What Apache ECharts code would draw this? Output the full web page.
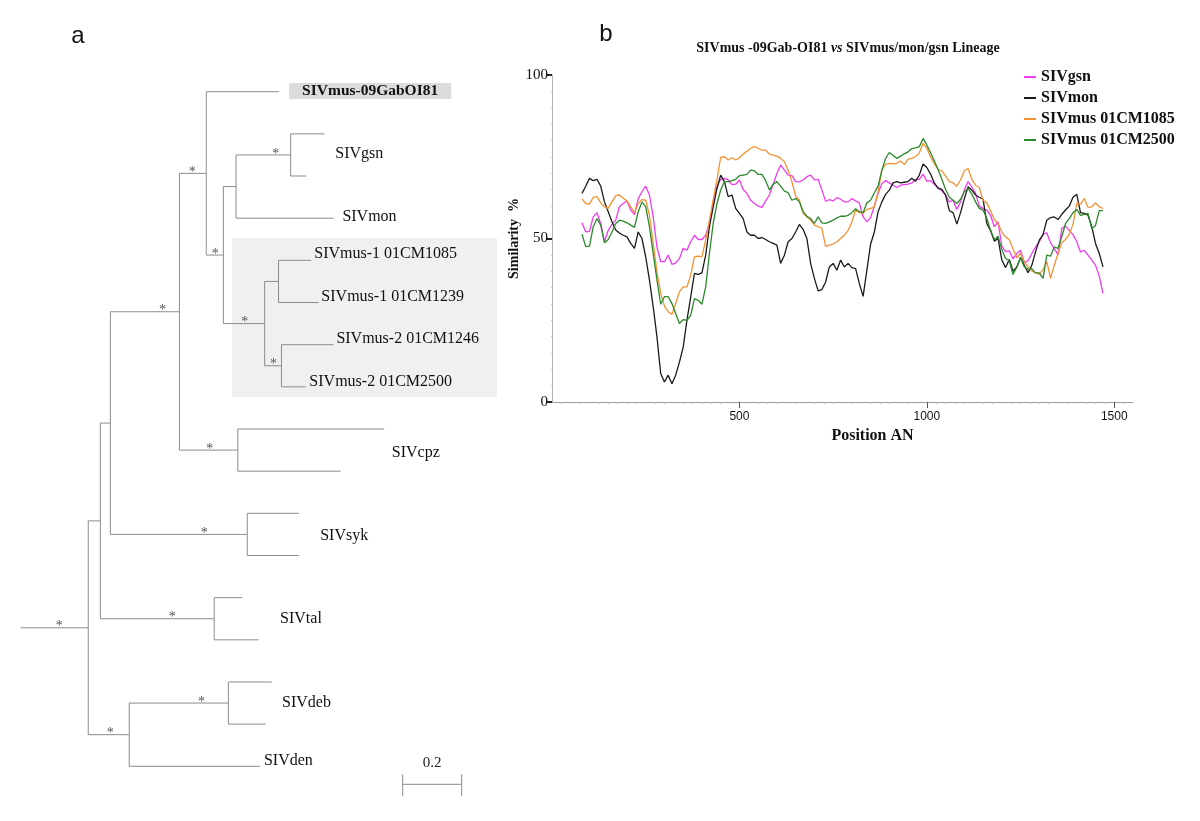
<!DOCTYPE html>
<html><head><meta charset="utf-8">
<script src="https://cdn.jsdelivr.net/npm/echarts@6/dist/echarts.min.js"></script>
<style>html,body{margin:0;padding:0;background:#fff}#c{width:1200px;height:821px}</style>
</head><body><div id="c"></div>
<script>
// ---------------- DATA ----------------
// similarity plot: positions start at posStart, one value every posStep
const posStart = 80, posStep = 10;
const seriesNames = ['SIVgsn', 'SIVmon', 'SIVmus 01CM1085', 'SIVmus 01CM2500'];
const gsn = [
  54.8, 52.0, 52.2, 56.6, 57.9, 54.6, 49.0, 52.5, 54.3, 55.6,
  59.7, 60.7, 61.5, 58.7, 57.3, 62.2, 64.3, 66.0, 63.3, 56.6,
  47.4, 42.9, 42.9, 44.9, 42.1, 42.5, 43.9, 47.0, 46.4, 49.0,
  51.0, 49.7, 49.7, 51.0, 54.6, 61.2, 65.8, 68.1, 68.4, 67.9,
  66.5, 66.6, 67.9, 65.0, 63.8, 61.7, 60.7, 59.9, 59.5, 61.5,
  63.3, 66.6, 69.9, 72.5, 70.9, 69.4, 69.2, 67.4, 67.3, 67.9,
  68.9, 69.4, 67.9, 68.1, 64.8, 61.4, 61.9, 61.5, 62.5, 62.0,
  61.2, 61.2, 62.2, 61.5, 60.9, 56.6, 55.1, 56.4, 59.9, 63.8,
  66.8, 67.7, 67.0, 66.3, 65.6, 66.3, 66.5, 66.6, 67.0, 68.1,
  68.1, 69.7, 67.5, 67.7, 66.6, 65.6, 64.6, 63.3, 61.2, 61.7,
  58.9, 61.2, 64.8, 67.4, 65.8, 63.8, 59.9, 59.2, 58.7, 57.1,
  53.6, 55.1, 47.7, 46.0, 46.2, 43.8, 45.4, 46.4, 42.6, 43.2,
  45.4, 47.4, 49.0, 51.3, 51.7, 48.7, 47.0, 45.0, 53.1, 53.8,
  52.5, 51.2, 49.0, 45.9, 46.4, 44.9, 43.4, 41.8, 38.5, 33.2
];
const mon = [
  63.8, 66.0, 68.4, 67.7, 68.1, 66.0, 61.2, 58.2, 55.1, 52.6,
  51.7, 51.0, 50.5, 48.5, 47.0, 52.0, 50.0, 44.4, 37.3, 29.1,
  19.9, 8.7, 6.1, 8.2, 5.6, 8.2, 12.2, 16.8, 25.0, 32.1,
  39.3, 39.0, 39.5, 44.9, 53.6, 59.7, 65.3, 69.4, 67.4, 62.8,
  63.3, 59.2, 57.7, 56.1, 52.0, 51.0, 51.0, 50.0, 50.3, 49.7,
  49.0, 48.5, 48.0, 42.4, 44.9, 49.0, 50.0, 52.0, 54.3, 52.8,
  50.0, 42.4, 37.8, 34.0, 34.4, 36.7, 41.3, 42.4, 40.3, 43.4,
  41.3, 42.4, 41.1, 40.8, 36.2, 32.3, 40.3, 48.3, 52.0, 58.2,
  61.2, 63.5, 64.8, 67.0, 67.4, 67.0, 67.2, 67.4, 68.4, 67.5,
  69.4, 72.8, 71.7, 69.7, 67.0, 65.3, 65.0, 63.3, 58.5, 57.9,
  54.4, 57.9, 62.2, 65.8, 64.8, 63.3, 62.6, 62.0, 54.6, 52.4,
  49.2, 50.0, 43.4, 41.1, 43.6, 40.0, 41.3, 44.2, 41.8, 39.5,
  41.8, 45.9, 49.5, 51.2, 55.6, 56.4, 56.6, 55.8, 57.4, 58.7,
  59.9, 62.6, 63.5, 57.9, 57.7, 57.1, 53.6, 48.5, 45.4, 41.3
];
const mus1085 = [
  62.1, 60.7, 60.5, 62.6, 62.8, 60.9, 59.7, 59.2, 61.2, 63.1,
  63.3, 62.3, 61.5, 59.7, 57.9, 60.7, 61.9, 61.7, 57.1, 48.5,
  39.8, 33.2, 29.3, 27.6, 26.8, 30.1, 33.7, 35.2, 35.2, 38.8,
  44.4, 44.6, 44.4, 49.5, 55.6, 61.7, 67.9, 74.8, 75.0, 74.0,
  74.7, 74.0, 74.7, 75.8, 76.7, 77.6, 78.1, 77.6, 77.0, 77.0,
  75.8, 75.5, 75.2, 74.5, 73.5, 70.9, 67.4, 63.0, 61.7, 57.7,
  56.6, 55.6, 54.1, 53.6, 53.1, 47.6, 48.0, 48.3, 49.0, 50.0,
  51.0, 52.5, 55.1, 58.7, 57.9, 57.7, 58.9, 59.2, 59.7, 64.3,
  70.9, 72.7, 73.0, 72.8, 73.0, 73.7, 72.6, 74.3, 74.5, 75.0,
  76.2, 79.1, 77.6, 75.0, 72.8, 71.1, 70.7, 69.1, 67.4, 67.0,
  66.0, 67.9, 70.7, 71.4, 68.1, 66.3, 65.6, 61.7, 60.9, 58.5,
  55.8, 54.6, 52.0, 50.5, 49.6, 46.8, 44.1, 45.4, 42.9, 41.3,
  40.1, 39.5, 39.1, 40.5, 42.9, 37.8, 41.8, 45.4, 48.7, 49.7,
  51.3, 54.4, 60.7, 60.5, 62.2, 59.5, 59.7, 60.9, 59.7, 59.2
];
const mus2500 = [
  51.3, 47.5, 47.7, 53.6, 56.1, 54.1, 48.7, 49.7, 52.0, 54.6,
  55.6, 55.3, 54.8, 54.1, 53.4, 58.2, 61.2, 59.7, 53.6, 45.4,
  37.3, 29.9, 32.2, 32.2, 30.1, 27.0, 24.0, 25.2, 25.0, 26.5,
  31.6, 31.1, 29.9, 35.2, 45.4, 54.6, 60.7, 64.8, 67.4, 67.4,
  67.7, 68.1, 69.2, 69.4, 69.6, 70.9, 70.7, 69.6, 69.6, 67.7,
  64.8, 66.6, 67.4, 66.0, 64.5, 64.0, 61.7, 62.2, 61.2, 58.2,
  56.8, 56.1, 54.6, 56.6, 54.8, 54.6, 55.1, 55.6, 56.3, 56.8,
  56.8, 57.1, 57.9, 59.1, 58.2, 57.9, 60.9, 61.7, 64.0, 66.0,
  70.9, 74.5, 76.3, 75.4, 74.5, 75.2, 75.9, 76.5, 77.5, 77.7,
  78.1, 80.6, 78.6, 76.2, 73.7, 71.1, 68.1, 65.0, 62.6, 61.7,
  60.7, 62.0, 64.3, 65.3, 63.6, 61.2, 59.2, 58.7, 56.1, 52.5,
  49.7, 50.7, 46.6, 43.9, 43.2, 39.0, 41.3, 44.2, 41.3, 40.6,
  40.8, 39.5, 39.5, 37.8, 44.9, 44.6, 47.4, 47.0, 50.5, 54.6,
  56.1, 57.9, 58.9, 57.1, 57.4, 57.7, 53.0, 54.0, 58.5, 58.5
];
const xTicks = [500, 1000, 1500];
const yTicks = [0, 50, 100];

// phylogenetic tree: [node id, parent id, branch length, supported (*)]
// children are listed top to bottom
const treeNodes = [
  ['K', null, 0.229, true],
  ['J', 'K', 0.041, false],
  ['I', 'J', 0.034, false],
  ['C', 'I', 0.234, true],
  ['A', 'C', 0.091, true],
  ['gab', 'A', 0.247, false],
  ['B', 'A', 0.058, true],
  ['D', 'B', 0.043, false],
  ['E', 'D', 0.185, true],
  ['gsn1', 'E', 0.115, false],
  ['gsn2', 'E', 0.053, false],
  ['mon', 'D', 0.331, false],
  ['F', 'B', 0.140, true],
  ['G', 'F', 0.047, false],
  ['m1085', 'G', 0.111, false],
  ['m1239', 'G', 0.136, false],
  ['H', 'F', 0.057, true],
  ['m1246', 'H', 0.177, false],
  ['m2500', 'H', 0.082, false],
  ['cpz', 'C', 0.198, true],
  ['cpz1', 'cpz', 0.496, false],
  ['cpz2', 'cpz', 0.349, false],
  ['syk', 'I', 0.464, true],
  ['syk1', 'syk', 0.175, false],
  ['syk2', 'syk', 0.175, false],
  ['tal', 'J', 0.386, true],
  ['tal1', 'tal', 0.095, false],
  ['tal2', 'tal', 0.151, false],
  ['L', 'K', 0.139, true],
  ['M', 'L', 0.336, true],
  ['deb1', 'M', 0.147, false],
  ['deb2', 'M', 0.127, false],
  ['den', 'L', 0.444, false]
];
const treeLabels = [
  ['SIVmus-09GabOI81', 'gab'],
  ['SIVgsn', 'E'],
  ['SIVmon', 'mon'],
  ['SIVmus-1 01CM1085', 'm1085'],
  ['SIVmus-1 01CM1239', 'm1239'],
  ['SIVmus-2 01CM1246', 'm1246'],
  ['SIVmus-2 01CM2500', 'm2500'],
  ['SIVcpz', 'cpz'],
  ['SIVsyk', 'syk'],
  ['SIVtal', 'tal'],
  ['SIVdeb', 'M'],
  ['SIVden', 'den']
];
const scaleBarLength = 0.2;
const scaleBarText = '0.2';

// ---------------- STYLE / LAYOUT ----------------
const serif = '"Liberation Serif", "Times New Roman", serif';
const sans = '"Liberation Sans", Arial, sans-serif';
const lineColors = ['#f03cf0', '#1a1a1a', '#f39232', '#2b8a2b'];
const treeColor = '#8c8c8c';
const labelStyle = {
  gab: {dx: 10, dy: -0.7, bold: true, box: true},
  E: {dx: 10.7, dy: -0.7}, mon: {dx: 8.7, dy: -1},
  m1085: {dx: 3, dy: -6.3}, m1239: {dx: 2.7, dy: -5.3},
  m1246: {dx: 2.7, dy: -5.6}, m2500: {dx: 3.7, dy: -5.3},
  cpz: {dx: 7.7, dy: 3.2}, syk: {dx: 21.3, dy: 1.5},
  tal: {dx: 21.3, dy: 0.3}, M: {dx: 10.3, dy: 0}, den: {dx: 3.7, dy: -5.3}
};
const starBack = {K: 29, A: 14, B: 8, E: 15, F: 20, H: 8, C: 17, cpz: 28, syk: 43, tal: 42, L: 19, M: 27};
const scaleBarPos = {x: 402.7, y: 784.3};

// ---------------- TREE LAYOUT ----------------
const nodeMap = {};
treeNodes.forEach(([id, parent, bl, sup]) => { nodeMap[id] = {id, parent, bl, sup, children: []}; });
treeNodes.forEach(([id, parent]) => { if (parent) nodeMap[parent].children.push(nodeMap[id]); });
let leafCounter = 0;
function layout(n, x0) {
  n.x0 = x0; n.x = x0 + n.bl;
  if (!n.children.length) { n.y = leafCounter++; n.tip = n.x; }
  else {
    n.children.forEach(c => layout(c, n.x));
    n.y = (n.children[0].y + n.children[n.children.length - 1].y) / 2;
    n.tip = Math.max(...n.children.map(c => c.tip));
  }
}
layout(nodeMap[treeNodes[0][0]], 0);
const edgeData = treeNodes.map(([id]) => {
  const n = nodeMap[id];
  const py = n.parent ? nodeMap[n.parent].y : n.y;
  return [n.x0, py, n.x, n.y];
});
const starData = treeNodes.filter(r => r[3]).map(([id]) => [nodeMap[id].x, nodeMap[id].y, treeNodes.findIndex(r => r[0] === id)]);
const labelData = treeLabels.map(([t, id], i) => [nodeMap[id].tip, nodeMap[id].y, i]);

// ---------------- CHART ----------------
const chart = echarts.init(document.getElementById('c'), null, {renderer: 'canvas'});
const lineSeries = [gsn, mon, mus1085, mus2500].map((vals, k) => ({
  name: seriesNames[k], type: 'line', xAxisIndex: 0, yAxisIndex: 0,
  showSymbol: false, symbol: 'none', animation: false,
  lineStyle: {color: lineColors[k], width: 1.3}, itemStyle: {color: lineColors[k]},
  data: vals.map((v, i) => [posStart + i * posStep, v])
}));

chart.setOption({
  animation: false,
  backgroundColor: '#fff',
  grid: [
    {left: 552, top: 75, width: 581, height: 327},
    {left: 20.7, top: 91.7, width: 472, height: 674.6}
  ],
  xAxis: [
    {gridIndex: 0, type: 'value', min: 0, max: 1550, interval: 500,
     axisLine: {lineStyle: {color: '#9a9a9a', width: 1}},
     axisTick: {length: 6, lineStyle: {color: '#555', width: 1}, customValues: xTicks},
     minorTick: {show: true, splitNumber: 20, length: 2, lineStyle: {color: '#bbb'}},
     axisLabel: {customValues: xTicks, formatter: v => String(v), fontFamily: sans, fontSize: 12, color: '#111', margin: 9},
     splitLine: {show: false},
     name: 'Position AN', nameLocation: 'middle', nameGap: 26,
     nameTextStyle: {fontFamily: serif, fontWeight: 'bold', fontSize: 16, color: '#111', padding: [0, 0, 0, 60]}},
    {gridIndex: 1, type: 'value', min: 0, max: 1.6, show: false}
  ],
  yAxis: [
    {gridIndex: 0, type: 'value', min: 0, max: 100, interval: 50,
     axisLine: {show: true, lineStyle: {color: '#b5b5b5'}},
     axisTick: {show: true, length: 5, lineStyle: {color: '#222', width: 2}, customValues: yTicks},
     minorTick: {show: true, splitNumber: 10, length: 1, lineStyle: {color: '#ccc'}},
     axisLabel: {customValues: yTicks, formatter: v => String(v), fontFamily: serif, fontSize: 15, color: '#111', margin: 4},
     splitLine: {show: false},
     name: 'Similarity  %', nameLocation: 'middle', nameGap: 19, nameRotate: 90,
     nameTextStyle: {fontFamily: serif, fontWeight: 'bold', fontSize: 14, color: '#111'}},
    {gridIndex: 1, type: 'value', min: 0, max: 16, inverse: true, show: false}
  ],
  legend: {
    data: seriesNames, orient: 'vertical', left: 1019, top: 64,
    icon: 'rect', itemWidth: 12, itemHeight: 2, itemGap: 5,
    textStyle: {fontFamily: serif, fontWeight: 'bold', fontSize: 16, color: '#111', lineHeight: 16}
  },
  graphic: [
    {type: 'rect', left: 232, top: 238, z: -10, silent: true,
     shape: {width: 265, height: 159}, style: {fill: '#f0f0f0'}},
    {type: 'text', x: 78, y: 36, silent: true,
     style: {text: 'a', fontFamily: sans, fontSize: 24, fill: '#111', align: 'center', verticalAlign: 'middle'}},
    {type: 'text', x: 606, y: 34, silent: true,
     style: {text: 'b', fontFamily: sans, fontSize: 24, fill: '#111', align: 'center', verticalAlign: 'middle'}},
    {type: 'text', x: 848, y: 48, silent: true,
     style: {text: '{b|SIVmus -09Gab-OI81 }{i|vs}{b| SIVmus/mon/gsn Lineage}', align: 'center', verticalAlign: 'middle',
       rich: {b: {fontFamily: serif, fontWeight: 'bold', fontSize: 14, fill: '#111'},
              i: {fontFamily: serif, fontWeight: 'bold', fontStyle: 'italic', fontSize: 14, fill: '#111'}}}}
  ],
  series: [
    ...lineSeries,
    {type: 'custom', xAxisIndex: 1, yAxisIndex: 1, clip: false, silent: true, z: 2,
     data: edgeData,
     renderItem: (params, api) => {
       const p0 = api.coord([api.value(0), api.value(1)]);
       const p1 = api.coord([api.value(0), api.value(3)]);
       const p2 = api.coord([api.value(2), api.value(3)]);
       return {type: 'polyline', shape: {points: [p0, p1, p2]}, style: {stroke: treeColor, lineWidth: 1, fill: null}};
     }},
    {type: 'custom', xAxisIndex: 1, yAxisIndex: 1, clip: false, silent: true, z: 3,
     data: starData,
     renderItem: (params, api) => {
       const id = treeNodes[api.value(2)][0];
       const p = api.coord([api.value(0), api.value(1)]);
       return {type: 'text', x: p[0] - starBack[id], y: p[1] + 6,
         style: {text: '*', fontFamily: serif, fontSize: 14, fill: '#555', align: 'center', verticalAlign: 'bottom'}};
     }},
    {type: 'custom', xAxisIndex: 1, yAxisIndex: 1, clip: false, silent: true, z: 3,
     data: labelData,
     renderItem: (params, api) => {
       const [text, id] = treeLabels[api.value(2)];
       const st = labelStyle[id];
       const p = api.coord([api.value(0), api.value(1)]);
       const style = {text, fontFamily: serif, fontSize: st.bold ? 15.5 : 16, fontWeight: st.bold ? 'bold' : 'normal',
         fill: '#111', align: 'left', verticalAlign: 'middle'};
       if (st.box) { style.backgroundColor = '#dcdcdc'; style.padding = [0, 13, 0, 13]; }
       return {type: 'text', x: p[0] + st.dx, y: p[1] + st.dy, style};
     }},
    {type: 'custom', xAxisIndex: 1, yAxisIndex: 1, clip: false, silent: true, z: 3,
     data: [[scaleBarLength, 0]],
     renderItem: (params, api) => {
       const len = api.size([api.value(0), 0])[0];
       const x0 = scaleBarPos.x, y0 = scaleBarPos.y;
       const ls = {stroke: treeColor, lineWidth: 1};
       return {type: 'group', children: [
         {type: 'line', shape: {x1: x0, y1: y0, x2: x0 + len, y2: y0}, style: ls},
         {type: 'line', shape: {x1: x0, y1: y0 - 10, x2: x0, y2: y0 + 12}, style: ls},
         {type: 'line', shape: {x1: x0 + len, y1: y0 - 10, x2: x0 + len, y2: y0 + 12}, style: ls},
         {type: 'text', x: x0 + len / 2, y: y0 - 21.6,
          style: {text: scaleBarText, fontFamily: serif, fontSize: 15, fill: '#222', align: 'center', verticalAlign: 'middle'}}
       ]};
     }}
  ]
});
</script></body></html>
